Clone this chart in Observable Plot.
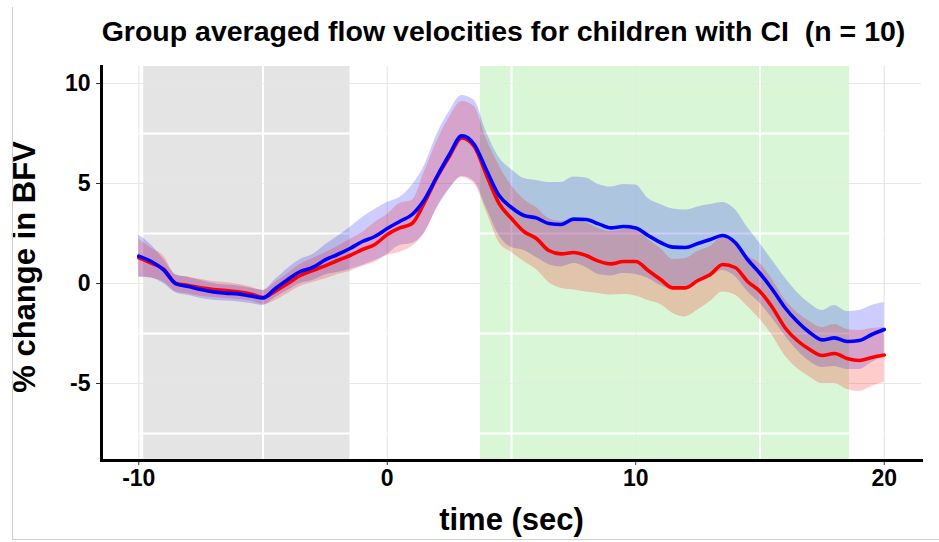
<!DOCTYPE html>
<html>
<head>
<meta charset="utf-8">
<script src="https://cdn.jsdelivr.net/npm/d3@7"></script>
<script src="https://cdn.jsdelivr.net/npm/@observablehq/plot@0.6"></script>
<style>
html, body { margin: 0; padding: 0; background: #fff; }
#wrap { position: relative; width: 939px; height: 542px; overflow: hidden; }
#border { position: absolute; left: 12px; top: 7px; width: 940px; height: 533px; border-left: 1px solid #cfcfcf; border-bottom: 1px solid #cfcfcf; box-sizing: border-box; pointer-events: none; }
svg { display: block; }
</style>
</head>
<body>
<div id="wrap"><div id="border"></div></div>
<script>
const titleText = "Group averaged flow velocities for children with CI  (n = 10)";
const xLabel = "time (sec)";
const yLabel = "% change in BFV";

const xTicks = [-10, 0, 10, 20];
const yTicks = [-5, 0, 5, 10];
const xMinor = [-5, 5, 15];
const yMinor = [-7.5, -2.5, 2.5, 7.5];

// shaded windows (seconds)
const shadeStart = [-9.8, 3.75];
const shadeEnd = [-1.5, 18.6];

const time = [
  -10, -9.5, -9, -8.5, -8, -7.5, -7, -6.5, -6, -5.5, -5, -4.5, -4, -3.5, -3, -2.5, -2, -1.5, -1, -0.5, 0,
  0.5, 1, 1.5, 2, 2.5, 3, 3.5, 4, 4.5, 5, 5.5, 6, 6.5, 7, 7.5, 8, 8.5, 9, 9.5, 10,
  10.5, 11, 11.5, 12, 12.5, 13, 13.5, 14, 14.5, 15, 15.5, 16, 16.5, 17, 17.5, 18, 18.5, 19, 19.5, 20
];

const blueMean = [
  1.37, 1.10, 0.68, -0.02, -0.15, -0.30, -0.42, -0.48, -0.52, -0.62, -0.72, -0.25, 0.20, 0.60, 0.80, 1.18, 1.45, 1.75, 2.10, 2.35, 2.75,
  3.10, 3.45, 4.20, 5.35, 6.45, 7.38, 6.95, 5.65, 4.40, 3.80, 3.40, 3.28, 3.00, 2.95, 3.22, 3.20, 2.98, 2.78, 2.85, 2.78,
  2.40, 2.05, 1.82, 1.80, 2.00, 2.20, 2.40, 2.05, 1.20, 0.50, -0.30, -1.20, -1.90, -2.45, -2.82, -2.72, -2.90, -2.85, -2.55, -2.30
];
const blueLo = [
  0.32, 0.28, 0.00, -0.47, -0.60, -0.75, -0.84, -0.88, -0.92, -1.00, -1.10, -0.70, -0.35, 0.00, 0.15, 0.43, 0.55, 0.70, 0.90, 1.15, 1.45,
  1.90, 2.00, 2.55, 3.75, 4.70, 5.35, 5.10, 3.75, 2.40, 1.80, 1.65, 1.30, 0.95, 0.83, 1.00, 0.80, 0.45, 0.38, 0.50, 0.45,
  0.25, -0.10, -0.30, -0.30, 0.05, 0.30, 0.65, 0.35, -0.40, -1.00, -1.75, -2.60, -3.35, -3.90, -4.20, -4.15, -4.30, -4.30, -3.95, -3.65
];
const blueHi = [
  2.42, 1.92, 1.20, 0.43, 0.30, 0.15, 0.00, -0.08, -0.12, -0.24, -0.34, 0.20, 0.75, 1.20, 1.45, 1.93, 2.35, 2.80, 3.30, 3.70, 4.05,
  4.30, 4.90, 5.90, 7.45, 8.60, 9.40, 9.15, 7.55, 6.30, 5.70, 5.25, 5.15, 5.05, 5.05, 5.33, 5.28, 4.95, 4.82, 4.95, 4.92,
  4.25, 3.95, 3.72, 3.67, 3.83, 3.95, 4.05, 3.70, 2.80, 2.00, 1.15, 0.30, -0.45, -1.00, -1.35, -1.10, -1.40, -1.35, -1.10, -0.95
];

const redMean = [
  1.28, 1.02, 0.72, 0.00, -0.10, -0.22, -0.30, -0.35, -0.42, -0.52, -0.70, -0.38, 0.00, 0.40, 0.65, 0.88, 1.15, 1.40, 1.70, 1.95, 2.45,
  2.78, 3.00, 4.05, 5.30, 6.35, 7.28, 6.85, 5.40, 4.00, 3.25, 2.60, 2.25, 1.65, 1.48, 1.55, 1.40, 1.12, 0.98, 1.10, 1.10,
  0.65, 0.20, -0.22, -0.22, 0.15, 0.45, 0.95, 0.80, 0.10, -0.40, -1.20, -2.20, -2.85, -3.30, -3.60, -3.50, -3.75, -3.85, -3.70, -3.58
];
const redLo = [
  0.33, 0.27, 0.07, -0.42, -0.52, -0.64, -0.70, -0.75, -0.80, -0.87, -1.05, -0.85, -0.50, -0.15, 0.05, 0.23, 0.45, 0.60, 0.85, 1.05, 1.40,
  1.55, 1.85, 2.50, 3.80, 4.75, 5.30, 5.00, 3.55, 2.05, 1.55, 1.10, 0.70, 0.05, -0.25, -0.33, -0.42, -0.50, -0.58, -0.55, -0.62,
  -0.85, -1.05, -1.50, -1.67, -1.33, -0.90, -0.42, -0.58, -1.15, -1.80, -2.60, -3.60, -4.25, -4.67, -5.00, -5.00, -5.30, -5.40, -5.15, -4.92
];
const redHi = [
  2.23, 1.77, 1.37, 0.42, 0.32, 0.20, 0.10, 0.05, -0.04, -0.17, -0.35, 0.05, 0.50, 0.95, 1.25, 1.53, 1.85, 2.20, 2.55, 3.05, 3.45,
  4.00, 4.15, 5.60, 7.10, 8.30, 9.10, 8.85, 7.20, 5.90, 4.90, 4.20, 3.80, 3.25, 3.10, 3.15, 3.05, 2.75, 2.60, 2.70, 2.75,
  2.20, 1.75, 1.20, 1.25, 1.60, 1.85, 2.30, 2.15, 1.40, 1.00, 0.20, -0.80, -1.45, -1.90, -2.20, -2.05, -2.30, -2.35, -2.25, -2.20
];

const blueRows = time.map((t, i) => ({t, mean: blueMean[i], lo: blueLo[i], hi: blueHi[i]}));
const redRows = time.map((t, i) => ({t, mean: redMean[i], lo: redLo[i], hi: redHi[i]}));
const shades = shadeStart.map((s, i) => ({x1: s, x2: shadeEnd[i]}));

const font = "'Liberation Sans', Arial, Helvetica, sans-serif";
const curve = "monotone-x";

const chart = Plot.plot({
  width: 939,
  height: 542,
  marginLeft: 101,
  marginRight: 18,
  marginTop: 66,
  marginBottom: 82,
  style: {fontFamily: font, color: "black", background: "transparent"},
  x: {domain: [-11.5, 21.5]},
  y: {domain: [-8.85, 10.85]},
  marks: [
    Plot.gridX(xTicks, {stroke: "#ebebeb", strokeOpacity: 1, strokeWidth: 1}),
    Plot.gridY(yTicks, {stroke: "#ebebeb", strokeOpacity: 1, strokeWidth: 1}),
    Plot.rect([shades[0]], {x1: "x1", x2: "x2", fill: "#e4e4e4"}),
    Plot.rect([shades[1]], {x1: "x1", x2: "x2", fill: "#d9f7d6"}),
    Plot.gridX(xMinor, {stroke: "white", strokeOpacity: 1, strokeWidth: 2}),
    Plot.gridY(yMinor, {stroke: "white", strokeOpacity: 1, strokeWidth: 2}),
    Plot.gridX(xTicks, {stroke: "#e6e6e6", strokeOpacity: 0.6, strokeWidth: 1}),
    Plot.gridY(yTicks, {stroke: "#e6e6e6", strokeOpacity: 0.6, strokeWidth: 1}),
    Plot.areaY(blueRows, {x: "t", y1: "lo", y2: "hi", fill: "blue", fillOpacity: 0.2, curve}),
    Plot.areaY(redRows, {x: "t", y1: "lo", y2: "hi", fill: "red", fillOpacity: 0.2, curve}),
    Plot.line(redRows, {x: "t", y: "mean", stroke: "red", strokeWidth: 3.6, curve}),
    Plot.line(blueRows, {x: "t", y: "mean", stroke: "blue", strokeWidth: 3.6, curve}),
    Plot.axisX(xTicks, {tickSize: 5, tickPadding: 4, fontSize: 23, fontWeight: "bold", stroke: "#333", fill: "black", tickFormat: d => String(d), label: null}),
    Plot.axisY(yTicks, {tickSize: 5, tickPadding: 6, fontSize: 23, fontWeight: "bold", stroke: "#333", fill: "black", tickFormat: d => String(d), label: null}),
    Plot.frame({anchor: "left", stroke: "black", strokeWidth: 3}),
    Plot.frame({anchor: "bottom", stroke: "black", strokeWidth: 3}),
    Plot.text([titleText], {text: d => d, frameAnchor: "top", textAnchor: "middle", lineAnchor: "middle", dx: -8, dy: -35, fontSize: 28.5, fontWeight: "bold", fill: "black"}),
    Plot.text([xLabel], {text: d => d, frameAnchor: "bottom", textAnchor: "middle", lineAnchor: "middle", dy: 60, fontSize: 31, fontWeight: "bold", fill: "black"}),
    Plot.text([yLabel], {text: d => d, frameAnchor: "left", textAnchor: "middle", lineAnchor: "middle", rotate: -90, dx: -76, dy: 3.5, fontSize: 31, fontWeight: "bold", fill: "black"})
  ]
});

document.getElementById("wrap").appendChild(chart);
</script>
</body>
</html>
